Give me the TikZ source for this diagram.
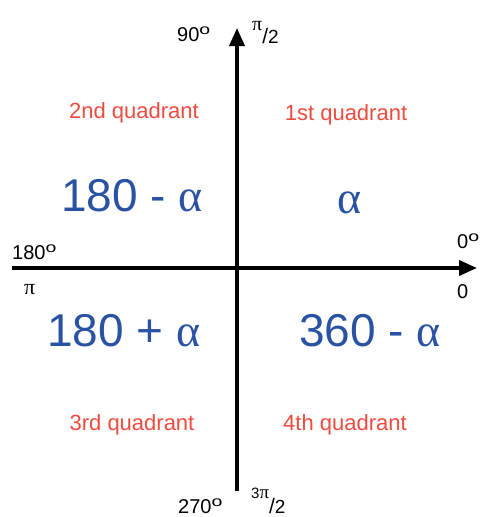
\documentclass[tikz,border=0pt]{standalone}
\usepackage{fontspec}
\setmainfont{Liberation Sans}
\newfontfamily\grk{Liberation Serif}
\usetikzlibrary{arrows.meta}
\definecolor{qred}{HTML}{EE4B3E}
\definecolor{qblue}{HTML}{2A52A3}
\tikzset{
  axis/.style={line width=3.6pt, -{Triangle[length=18pt,width=15pt]}},
  quadlbl/.style={text=qred, font=\fontsize{22}{26}\selectfont, inner sep=0pt},
  anglbl/.style={text=qblue, font=\fontsize{46}{52}\selectfont, inner sep=0pt},
  marklbl/.style={text=black, font=\fontsize{20}{24}\selectfont, inner sep=0pt, anchor=base west}
}
\newcommand{\degsup}{\raisebox{6.5pt}{\scalebox{1.3}[0.95]{\fontsize{15}{17}\selectfont o}}}
\begin{document}
\begin{tikzpicture}[x=1pt,y=-1pt]
\useasboundingbox (0,0) rectangle (483,517);
\coordinate (xl) at (12,268);
\coordinate (xr) at (477,268);
\coordinate (yb) at (237,491);
\coordinate (yt) at (237,28);
\draw[axis] (xl) -- (xr);
\draw[axis] (yb) -- (yt);
% quadrant labels
\node[quadlbl] (q2) at (134,113) {2nd quadrant};
\node[quadlbl] (q1) at (346,115) {1st quadrant};
\node[quadlbl] (q3) at (132,425) {3rd quadrant};
\node[quadlbl] (q4) at (345,425) {4th quadrant};
% angle expressions
\node[anglbl] (a2) at (132,196) {180 - {\grk α}};
\node[anglbl] (a1) at (350,203) {{\grk α}};
\node[anglbl] (a3) at (124,331) {180 + {\grk α}};
\node[anglbl] (a4) at (370,331) {360 - {\grk α}};
% axis marks
\node[marklbl] (d90) at (177,41) {90\degsup};
\node[marklbl] (r90) at (252,43) {\raisebox{13pt}{\grk\fontsize{20}{22}\selectfont π}{\fontsize{21}{24}\selectfont /}{\fontsize{19}{22}\selectfont 2}};
\node[marklbl] (d180) at (12,259) {180\degsup};
\node[marklbl] (r180) at (24,294) {\grk\fontsize{22}{24}\selectfont π};
\node[marklbl] (d0) at (457,248) {0\degsup};
\node[marklbl] (r0) at (457,298) {0};
\node[marklbl] (d270) at (178,513) {270\degsup};
\node[marklbl] (r270) at (251,513) {\raisebox{15pt}{\fontsize{15}{17}\selectfont 3{\grk\fontsize{19}{21}\selectfont π}}{\fontsize{21}{24}\selectfont /}{\fontsize{19}{22}\selectfont 2}};
\end{tikzpicture}
\end{document}
